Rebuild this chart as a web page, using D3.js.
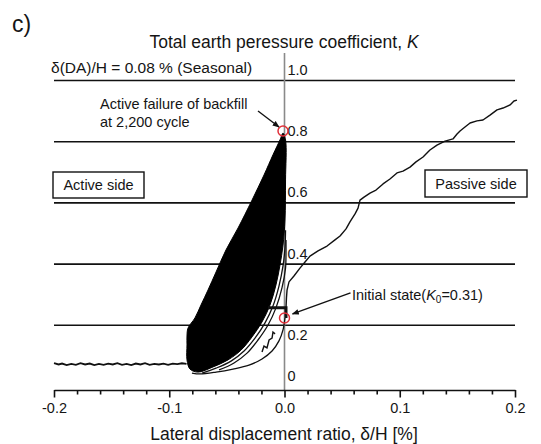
<!DOCTYPE html>
<html>
<head>
<meta charset="utf-8">
<script src="https://cdn.jsdelivr.net/npm/d3@7"></script>
<style>
  body { margin: 0; background: #fff; }
  svg { display: block; }
  text { font-family: "Liberation Sans", Arial, sans-serif; fill: #151515; }
</style>
</head>
<body>
<svg id="chart" width="541" height="444"></svg>
<script>
// ---- data: lateral displacement ratio δ/H [%] vs. earth pressure coefficient K ----
const xMajorTicks = [-0.2, -0.1, 0.0, 0.1, 0.2];
const xMinorTicks = [-0.18, -0.16, -0.14, -0.12, -0.08, -0.06, -0.04, -0.02,
                     0.02, 0.04, 0.06, 0.08, 0.12, 0.14, 0.16, 0.18];
const kTicks = [0, 0.2, 0.4, 0.6, 0.8, 1.0];
const kGridLines = [0.2, 0.4, 0.6, 0.8, 1.0];

// active push-out after cycling (left branch)
const activeBranch = [
  [-0.200,0.076],[-0.196,0.072],[-0.193,0.075],[-0.189,0.070],[-0.185,0.074],
  [-0.181,0.071],[-0.177,0.076],[-0.173,0.072],[-0.169,0.075],[-0.165,0.070],
  [-0.161,0.074],[-0.157,0.071],[-0.153,0.075],[-0.149,0.072],[-0.145,0.076],
  [-0.141,0.071],[-0.137,0.074],[-0.133,0.070],[-0.129,0.075],[-0.125,0.072],
  [-0.121,0.076],[-0.117,0.071],[-0.113,0.074],[-0.109,0.072],[-0.105,0.075],
  [-0.101,0.071],[-0.097,0.075],[-0.093,0.073],[-0.089,0.076],[-0.085,0.074]
];

// envelope of the 2,200 seasonal cycles (dense hysteresis loops)
const cycleEnvelope = [
  [-0.0013,0.828],[0.0009,0.806],[0.0009,0.675],[0.0004,0.544],[-0.0013,0.462],
  [-0.0039,0.397],[-0.0074,0.332],[-0.0126,0.266],[-0.0195,0.211],[-0.0282,0.162],
  [-0.0377,0.119],[-0.0490,0.087],[-0.0620,0.064],[-0.0751,0.047],[-0.0820,0.057],
  [-0.0846,0.087],[-0.0846,0.136],[-0.0846,0.165],[-0.0837,0.191],[-0.0777,0.224],
  [-0.0725,0.266],[-0.0664,0.315],[-0.0594,0.374],[-0.0508,0.446],[-0.0403,0.518],
  [-0.0282,0.609],[-0.0178,0.691],[-0.0100,0.757],[-0.0039,0.806]
];

// individual early loops visible outside the envelope
const loopA = [
  [0.0009,0.511],[0.0004,0.453],[-0.0013,0.394],[-0.0048,0.328],[-0.0100,0.263],
  [-0.0169,0.208],[-0.0256,0.158],[-0.0351,0.116],[-0.0464,0.083],[-0.0594,0.060],
  [-0.0716,0.044]
];
const loopB = [
  [0.0013,0.479],[0.0013,0.433],[0.0009,0.387],[-0.0022,0.322],[-0.0074,0.257],
  [-0.0143,0.201],[-0.0230,0.152],[-0.0325,0.109],[-0.0438,0.077],[-0.0568,0.054]
];
const firstUnloading = [
  [0.0004,0.224],[-0.0013,0.185],[-0.0048,0.149],[-0.0108,0.116],[-0.0195,0.090],
  [-0.0308,0.070],[-0.0447,0.057],[-0.0594,0.047],[-0.0733,0.041],[-0.0803,0.044]
];
const firstLoopKink = [
  [-0.0195,0.113],[-0.0178,0.132],[-0.0152,0.126],[-0.0134,0.152],[-0.0108,0.158],
  [-0.0100,0.178],[-0.0082,0.172]
];
const initialStep = [[0.0013,0.224],[0.0013,0.257],[-0.0143,0.257]];

// passive push-in (right branch)
const passiveBranch = [
  [0.0013,0.257],[0.0017,0.289],[0.0022,0.315],[0.0039,0.342],[0.0082,0.361],
  [0.0134,0.387],[0.0178,0.407],[0.0221,0.426],[0.0291,0.443],[0.0369,0.459],
  [0.0438,0.479],[0.0482,0.492],[0.0534,0.515],[0.0568,0.538],[0.0612,0.564],
  [0.0638,0.583],[0.0655,0.609],[0.0690,0.619],[0.0742,0.632],[0.0794,0.642],
  [0.0855,0.662],[0.0915,0.678],[0.0976,0.698],[0.1028,0.704],[0.1089,0.717],
  [0.1141,0.734],[0.1202,0.750],[0.1262,0.773],[0.1323,0.789],[0.1393,0.802],
  [0.1462,0.809],[0.1497,0.825],[0.1523,0.835],[0.1566,0.848],[0.1610,0.861],
  [0.1670,0.868],[0.1722,0.871],[0.1783,0.887],[0.1844,0.904],[0.1896,0.910],
  [0.1957,0.920],[0.1991,0.933],[0.2017,0.936]
];

// marked states
const failurePoint = [-0.0013, 0.835];
const initialPoint = [0.0000, 0.224];

// ---- drawing ----
const svg = d3.select("#chart");
svg.append("rect").attr("width", 541).attr("height", 444).attr("fill", "#fff");

const x = d3.scaleLinear().domain([-0.2, 0.2]).range([54, 515]);
const y = d3.scaleLinear().domain([0, 1]).range([386.5, 80.5]);
const axisY = 390;

const defs = svg.append("defs");
defs.append("marker")
  .attr("id", "arrow").attr("viewBox", "0 0 10 10")
  .attr("refX", 9).attr("refY", 5)
  .attr("markerWidth", 7).attr("markerHeight", 7)
  .attr("markerUnits", "userSpaceOnUse")
  .attr("orient", "auto")
  .append("path").attr("d", "M0,1 L10,5 L0,9 Z").attr("fill", "#111");

// horizontal reference lines
svg.append("g").selectAll("line").data(kGridLines).join("line")
  .attr("x1", x(-0.2)).attr("x2", x(0.2))
  .attr("y1", d => y(d)).attr("y2", d => y(d))
  .attr("stroke", "#111").attr("stroke-width", 1.6);

// vertical zero line carrying the K scale
svg.append("line")
  .attr("x1", x(0)).attr("x2", x(0))
  .attr("y1", y(1.09)).attr("y2", axisY)
  .attr("stroke", "#8a8a8a").attr("stroke-width", 1.6);

// K tick labels beside the zero line
const kAxis = svg.append("g")
  .attr("transform", `translate(${x(0)},0)`)
  .call(d3.axisRight(y).tickValues(kTicks).tickSize(0).tickPadding(3)
        .tickFormat(d => d === 0 ? "0" : d.toFixed(1)));
kAxis.select(".domain").remove();
kAxis.selectAll("text")
  .attr("font-size", 14.5)
  .attr("font-family", '"Liberation Sans", Arial, sans-serif')
  .attr("fill", "#151515")
  .attr("dy", d => d === 0.2 ? "14.5px" : "-6px");

// x axis: minor then major ticks
const xMinor = svg.append("g").attr("transform", `translate(0,${axisY})`)
  .call(d3.axisBottom(x).tickValues(xMinorTicks).tickSize(4.5).tickFormat(""));
xMinor.select(".domain").remove();
const xMajor = svg.append("g").attr("transform", `translate(0,${axisY})`)
  .call(d3.axisBottom(x).tickValues(xMajorTicks).tickSizeInner(7.5).tickSizeOuter(0)
        .tickPadding(5).tickFormat(d => d.toFixed(1)));
svg.selectAll(".tick line").attr("stroke", "#111").attr("stroke-width", 1.6);
xMajor.select(".domain").attr("stroke", "#111").attr("stroke-width", 1.6);
xMajor.selectAll("text")
  .attr("font-size", 14.5)
  .attr("font-family", '"Liberation Sans", Arial, sans-serif')
  .attr("fill", "#151515");

// curves
const line = d3.line().x(d => x(d[0])).y(d => y(d[1]));
const smooth = d3.line().x(d => x(d[0])).y(d => y(d[1])).curve(d3.curveCatmullRom.alpha(0.5));
const closed = d3.line().x(d => x(d[0])).y(d => y(d[1])).curve(d3.curveCatmullRomClosed.alpha(0.5));

svg.append("path").datum(activeBranch).attr("d", line)
  .attr("fill", "none").attr("stroke", "#111").attr("stroke-width", 1.8);

svg.append("path").datum(cycleEnvelope).attr("d", closed)
  .attr("fill", "#000").attr("stroke", "#000").attr("stroke-width", 1);

[loopA, loopB, firstUnloading].forEach(c => {
  svg.append("path").datum(c).attr("d", smooth)
    .attr("fill", "none").attr("stroke", "#111").attr("stroke-width", 1.3);
});
svg.append("path").datum(firstLoopKink).attr("d", line)
  .attr("fill", "none").attr("stroke", "#111").attr("stroke-width", 1.4);
svg.append("path").datum(initialStep).attr("d", line)
  .attr("fill", "none").attr("stroke", "#111").attr("stroke-width", 3);

svg.append("path").datum(passiveBranch).attr("d", line)
  .attr("fill", "none").attr("stroke", "#111").attr("stroke-width", 1.4)
  .attr("stroke-linejoin", "round");

// marked states
[failurePoint, initialPoint].forEach(p => {
  svg.append("circle")
    .attr("cx", x(p[0])).attr("cy", y(p[1])).attr("r", 5)
    .attr("fill", "none").attr("stroke", "#e0303a").attr("stroke-width", 1.5);
});

// annotation arrows
const fx = x(failurePoint[0]), fy = y(failurePoint[1]);
svg.append("line")
  .attr("x1", fx - 25).attr("y1", fy - 20).attr("x2", fx - 4).attr("y2", fy - 4)
  .attr("stroke", "#111").attr("stroke-width", 1.4).attr("marker-end", "url(#arrow)");
const ix = x(initialPoint[0]), iy = y(initialPoint[1]);
svg.append("line")
  .attr("x1", ix + 66).attr("y1", iy - 25).attr("x2", ix + 8).attr("y2", iy - 4)
  .attr("stroke", "#111").attr("stroke-width", 1.4).attr("marker-end", "url(#arrow)");

// texts
svg.append("text").attr("x", 12).attr("y", 32).attr("font-size", 23).text("c)");

const title = svg.append("text").attr("x", 284).attr("y", 48)
  .attr("text-anchor", "middle").attr("font-size", 17.5);
title.append("tspan").text("Total earth peressure coefficient, ");
title.append("tspan").attr("font-style", "italic").text("K");

svg.append("text").attr("x", 51).attr("y", 73).attr("font-size", 15.5)
  .text("δ(DA)/H = 0.08 % (Seasonal)");

svg.append("text").attr("x", 100).attr("y", 109).attr("font-size", 14.5)
  .text("Active failure of backfill");
svg.append("text").attr("x", 100).attr("y", 127).attr("font-size", 14.5)
  .text("at 2,200 cycle");

svg.append("rect").attr("x", 53).attr("y", 172).attr("width", 91).attr("height", 26)
  .attr("fill", "#fff").attr("stroke", "#111").attr("stroke-width", 1.4);
svg.append("text").attr("x", 98.5).attr("y", 190).attr("text-anchor", "middle")
  .attr("font-size", 14.5).text("Active side");

svg.append("rect").attr("x", 425).attr("y", 170).attr("width", 102).attr("height", 27)
  .attr("fill", "#fff").attr("stroke", "#111").attr("stroke-width", 1.4);
svg.append("text").attr("x", 476).attr("y", 188.5).attr("text-anchor", "middle")
  .attr("font-size", 14.5).text("Passive side");

const init = svg.append("text").attr("x", 352).attr("y", 300).attr("font-size", 14.5);
init.append("tspan").text("Initial state(");
init.append("tspan").attr("font-style", "italic").text("K");
init.append("tspan").attr("font-size", 10).attr("dy", 3).text("0");
init.append("tspan").attr("dy", -3).text("=0.31)");

svg.append("text").attr("x", 284).attr("y", 440).attr("text-anchor", "middle")
  .attr("font-size", 17.5).text("Lateral displacement ratio, δ/H [%]");
</script>
</body>
</html>
